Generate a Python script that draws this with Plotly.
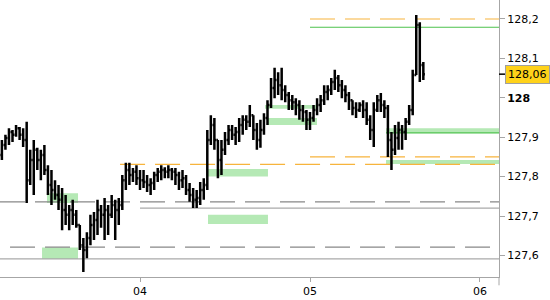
import plotly.graph_objects as go
import pandas as pd

# ---- data (30-minute bars) ----
bar_times = pd.date_range("2022-05-03 04:30", periods=120, freq="30min")

opens = [127.855, 127.880, 127.898, 127.913, 127.906, 127.923, 127.906, 127.893, 127.791, 127.842,
         127.868, 127.842, 127.855, 127.817, 127.779, 127.766, 127.753, 127.741, 127.715, 127.703,
         127.715, 127.703, 127.677, 127.626, 127.614, 127.644, 127.677, 127.690, 127.715, 127.703,
         127.715, 127.703, 127.728, 127.715, 127.728, 127.791, 127.817, 127.804, 127.812, 127.796,
         127.791, 127.786, 127.779, 127.784, 127.804, 127.812, 127.817, 127.812, 127.817, 127.812,
         127.804, 127.791, 127.796, 127.766, 127.753, 127.741, 127.746, 127.766, 127.779, 127.893,
         127.931, 127.893, 127.842, 127.868, 127.893, 127.918, 127.906, 127.913, 127.931, 127.944,
         127.939, 127.956, 127.918, 127.893, 127.918, 127.949, 127.982, 128.025, 128.045, 128.032,
         128.020, 128.007, 127.994, 127.989, 127.982, 127.969, 127.964, 127.944, 127.949, 127.969,
         127.982, 127.994, 128.015, 128.020, 128.040, 128.050, 128.032, 128.020, 128.007, 127.994,
         127.974, 127.969, 127.982, 127.969, 127.944, 127.918, 127.969, 127.994, 127.982, 127.974,
         127.893, 127.868, 127.898, 127.918, 127.913, 127.939, 127.969, 128.058, 128.185, 128.083]

highs = [127.893, 127.906, 127.923, 127.918, 127.931, 127.926, 127.923, 127.939, 127.868, 127.893,
         127.873, 127.868, 127.880, 127.829, 127.817, 127.791, 127.779, 127.771, 127.753, 127.728,
         127.741, 127.715, 127.677, 127.644, 127.659, 127.703, 127.710, 127.741, 127.728, 127.746,
         127.728, 127.753, 127.741, 127.746, 127.804, 127.835, 127.835, 127.822, 127.829, 127.817,
         127.817, 127.804, 127.796, 127.812, 127.822, 127.829, 127.824, 127.829, 127.822, 127.822,
         127.812, 127.817, 127.804, 127.784, 127.771, 127.766, 127.786, 127.796, 127.918, 127.956,
         127.949, 127.893, 127.893, 127.913, 127.931, 127.931, 127.926, 127.949, 127.956, 127.956,
         127.982, 127.956, 127.936, 127.944, 127.961, 127.994, 128.050, 128.076, 128.065, 128.076,
         128.032, 128.015, 128.007, 127.999, 127.994, 127.982, 127.969, 127.964, 127.982, 127.999,
         128.007, 128.032, 128.032, 128.050, 128.071, 128.058, 128.045, 128.032, 128.015, 127.994,
         127.989, 127.989, 127.994, 127.989, 127.956, 127.989, 128.007, 128.012, 127.994, 127.982,
         127.913, 127.931, 127.939, 127.931, 127.949, 127.982, 128.071, 128.210, 128.192, 128.091]

lows = [127.842, 127.868, 127.880, 127.888, 127.901, 127.893, 127.875, 127.733, 127.779, 127.753,
        127.817, 127.791, 127.804, 127.753, 127.728, 127.741, 127.715, 127.664, 127.677, 127.664,
        127.677, 127.670, 127.614, 127.558, 127.593, 127.626, 127.639, 127.652, 127.670, 127.639,
        127.652, 127.695, 127.639, 127.677, 127.715, 127.766, 127.779, 127.786, 127.779, 127.766,
        127.771, 127.761, 127.753, 127.766, 127.786, 127.791, 127.796, 127.796, 127.791, 127.779,
        127.766, 127.771, 127.753, 127.736, 127.720, 127.720, 127.728, 127.741, 127.766, 127.880,
        127.868, 127.796, 127.804, 127.855, 127.880, 127.893, 127.880, 127.888, 127.906, 127.918,
        127.926, 127.893, 127.868, 127.873, 127.906, 127.931, 127.974, 127.999, 128.007, 127.994,
        127.989, 127.969, 127.969, 127.956, 127.944, 127.939, 127.918, 127.918, 127.939, 127.956,
        127.964, 127.982, 127.994, 128.007, 128.020, 128.015, 127.999, 127.989, 127.969, 127.956,
        127.949, 127.964, 127.949, 127.931, 127.893, 127.875, 127.964, 127.964, 127.949, 127.850,
        127.817, 127.855, 127.868, 127.868, 127.893, 127.931, 127.956, 128.058, 128.040, 128.045]

closes = [127.880, 127.898, 127.913, 127.906, 127.923, 127.906, 127.893, 127.791, 127.842, 127.868,
          127.842, 127.855, 127.817, 127.779, 127.766, 127.753, 127.741, 127.715, 127.703, 127.715,
          127.703, 127.677, 127.626, 127.614, 127.644, 127.677, 127.690, 127.715, 127.703, 127.715,
          127.703, 127.728, 127.715, 127.728, 127.791, 127.817, 127.804, 127.812, 127.796, 127.791,
          127.786, 127.779, 127.784, 127.804, 127.812, 127.817, 127.812, 127.817, 127.812, 127.804,
          127.791, 127.796, 127.766, 127.753, 127.741, 127.746, 127.766, 127.779, 127.893, 127.931,
          127.893, 127.842, 127.868, 127.893, 127.918, 127.906, 127.913, 127.931, 127.944, 127.939,
          127.956, 127.918, 127.893, 127.918, 127.949, 127.982, 128.025, 128.045, 128.032, 128.020,
          128.007, 127.994, 127.989, 127.982, 127.969, 127.964, 127.944, 127.949, 127.969, 127.982,
          127.994, 128.015, 128.020, 128.040, 128.050, 128.032, 128.020, 128.007, 127.994, 127.974,
          127.969, 127.982, 127.969, 127.944, 127.918, 127.969, 127.994, 127.982, 127.974, 127.893,
          127.868, 127.898, 127.918, 127.913, 127.939, 127.969, 128.058, 128.185, 128.083, 128.060]

last_price = 128.06
last_label = "128,06"

y_tickvals = [127.6, 127.7, 127.8, 127.9, 128.0, 128.1, 128.2]
y_ticktext = ["127,6", "127,7", "127,8", "127,9", "<b>128</b>", "128,1", "128,2"]

x_range = ["2022-05-03 04:14", "2022-05-06 02:41"]

# horizontal levels: (value, start, end)
gray_dash_levels = [(127.736, "2022-05-03 04:14", "2022-05-06 02:41"),
                    (127.621, "2022-05-03 05:39", "2022-05-06 01:25")]
gray_solid_levels = [(127.720, "2022-05-04 00:00", "2022-05-06 02:41"),
                     (127.591, "2022-05-03 04:14", "2022-05-06 02:41")]
orange_dash_levels = [(127.831, "2022-05-03 21:11", "2022-05-06 02:07"),
                      (127.850, "2022-05-05 00:00", "2022-05-06 02:41"),
                      (128.200, "2022-05-05 00:00", "2022-05-06 02:41")]
green_solid_levels = [(128.179, "2022-05-05 00:00", "2022-05-06 02:41"),
                      (127.911, "2022-05-05 10:44", "2022-05-06 02:41")]

# green zones: (start, end, low, high)
green_zones = [("2022-05-03 10:52", "2022-05-03 15:15", 127.733, 127.758),
               ("2022-05-03 10:10", "2022-05-03 15:15", 127.591, 127.620),
               ("2022-05-04 09:36", "2022-05-04 18:04", 127.800, 127.819),
               ("2022-05-04 09:36", "2022-05-04 18:04", 127.680, 127.703),
               ("2022-05-04 17:39", "2022-05-05 00:59", 127.972, 127.982),
               ("2022-05-04 17:56", "2022-05-05 00:59", 127.931, 127.949),
               ("2022-05-05 10:44", "2022-05-06 02:41", 127.911, 127.923),
               ("2022-05-05 10:44", "2022-05-06 02:41", 127.832, 127.842)]

FONT = "DejaVu Sans"
AXIS_GRAY = "#a6a6a6"

fig = go.Figure()
fig.add_trace(go.Ohlc(
    x=bar_times, open=opens, high=highs, low=lows, close=closes,
    increasing=dict(line=dict(color="black", width=2.5)),
    decreasing=dict(line=dict(color="black", width=2.5)),
    tickwidth=0.45, showlegend=False, hoverinfo="skip"))

shapes = []
for (x0, x1, lo, hi) in green_zones:
    shapes.append(dict(type="rect", xref="x", yref="y", x0=x0, x1=x1, y0=lo, y1=hi,
                       fillcolor="#b5e9b5", line=dict(width=0), layer="below"))
for (v, a, b) in gray_solid_levels:
    shapes.append(dict(type="line", xref="x", yref="y", x0=a, x1=b, y0=v, y1=v,
                       line=dict(color="#aaaaaa", width=1.2), layer="below"))
for (v, a, b) in gray_dash_levels:
    shapes.append(dict(type="line", xref="x", yref="y", x0=a, x1=b, y0=v, y1=v,
                       line=dict(color="#888888", width=1.2, dash="25px,10px"), layer="below"))
for (v, a, b) in orange_dash_levels:
    shapes.append(dict(type="line", xref="x", yref="y", x0=a, x1=b, y0=v, y1=v,
                       line=dict(color="#f7b43c", width=1.2, dash="25px,10px"), layer="below"))
for (v, a, b) in green_solid_levels:
    shapes.append(dict(type="line", xref="x", yref="y", x0=a, x1=b, y0=v, y1=v,
                       line=dict(color="#4cc24c", width=1.2), layer="below"))
# last-price tick and axis extension
shapes.append(dict(type="line", xref="paper", yref="y", x0=1, x1=1.012, y0=last_price, y1=last_price,
                   line=dict(color="black", width=1.5)))
shapes.append(dict(type="line", xref="paper", yref="paper", x0=1, x1=1, y0=0, y1=-0.03,
                   line=dict(color=AXIS_GRAY, width=1)))

fig.update_layout(
    width=550, height=300,
    margin=dict(l=0, r=51, t=0, b=23),
    paper_bgcolor="white", plot_bgcolor="white",
    separators=",.",
    font=dict(family=FONT, size=11, color="black"),
    shapes=shapes,
    showlegend=False,
    xaxis=dict(type="date", range=x_range, rangeslider=dict(visible=False),
               showgrid=False, zeroline=False, showline=True, linecolor=AXIS_GRAY, linewidth=1,
               ticks="outside", ticklen=4, tickcolor=AXIS_GRAY,
               tick0="2022-05-04", dtick=86400000, tickformat="%d",
               tickfont=dict(family=FONT, size=11, color="black")),
    yaxis=dict(side="right", range=[127.5452, 128.2482], showgrid=False, zeroline=False,
               showline=True, linecolor=AXIS_GRAY, linewidth=1,
               ticks="outside", ticklen=5, tickcolor=AXIS_GRAY,
               tickvals=y_tickvals, ticktext=y_ticktext,
               tickfont=dict(family=FONT, size=11, color="black")),
    annotations=[dict(x=1, xref="paper", y=last_price, yref="y", text=last_label,
                      xanchor="left", yanchor="middle", xshift=6, showarrow=False,
                      bgcolor="#ffd21a", bordercolor="#a0a0a0", borderwidth=1, borderpad=2,
                      font=dict(family=FONT, size=11, color="black"))],
)

fig.write_html("out.html")
